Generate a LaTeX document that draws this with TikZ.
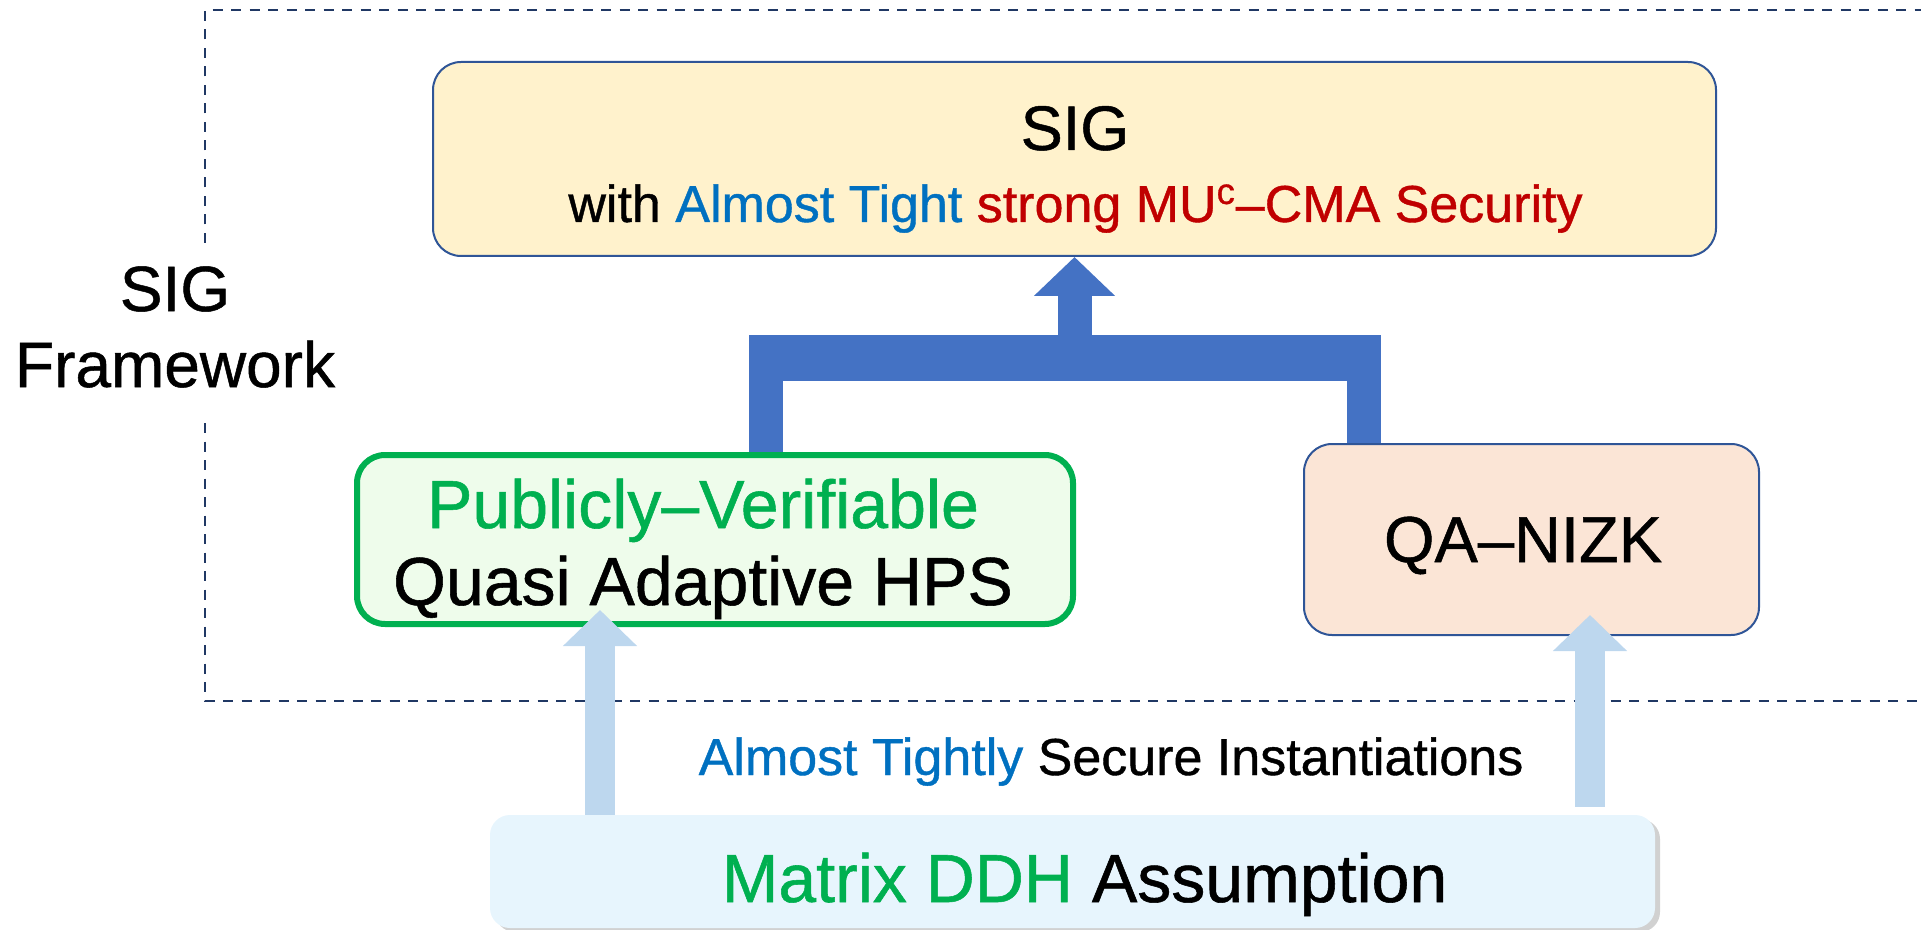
\documentclass[tikz,border=0pt]{standalone}
\usepackage{fontspec}
\setmainfont{Liberation Sans}[FakeBold=0.8]
\usepackage{xcolor}
\usetikzlibrary{arrows.meta,calc,shadows}

\definecolor{sigfill}{HTML}{FFF2CC}
\definecolor{hpsfill}{HTML}{EEFCEB}
\definecolor{nizkfill}{HTML}{FBE5D6}
\definecolor{ddhfill}{HTML}{E7F5FD}
\definecolor{cardedge}{HTML}{2F5597}
\definecolor{framenavy}{HTML}{203864}
\definecolor{fatblue}{HTML}{4472C4}
\definecolor{liftblue}{HTML}{BDD7EE}
\definecolor{hlgreen}{HTML}{00B050}
\definecolor{hlblue}{HTML}{0070C0}
\definecolor{hlred}{HTML}{C00000}

\newcommand{\setpt}[2]{\fontsize{#1}{#2}\selectfont}

\begin{document}
\begin{tikzpicture}[x=0.5pt,y=-0.5pt,
        card/.style={rounded corners=14pt,inner sep=0pt},
        fatline/.style={draw=fatblue,line width=17pt},
        liftarrow/.style={draw=liftblue,line width=15pt,-{Triangle[width=36pt,length=18pt]}},
        frameline/.style={draw=framenavy,line width=1.4pt,dash pattern=on 5pt off 4.25pt}]
    \useasboundingbox (0,0) rectangle (1921,930);

    % framework frame, open on the left for its label
    \draw[frameline] (205,243) -- (205,10) -- (1935,10);
    \draw[frameline] (205,423) -- (205,701) -- (1935,701);
    \node[align=center,font=\setpt{32pt}{38pt}] (fwlabel) at (175,327) {SIG\\Framework};

    % boxes
    \node[card,draw=cardedge,line width=1pt,fill=sigfill,minimum width=641.5pt,minimum height=97pt] (sig) at (1074.5,159) {};
    \node[anchor=base,font=\setpt{31.5pt}{38pt}] (sigtitle) at (1075,150) {SIG};
    \node[anchor=base,font=\setpt{26pt}{31pt}] (sigsub) at (1075.5,222)
        {with \textcolor{hlblue}{Almost Tight} \textcolor{hlred}{strong MU\textsuperscript{c}–CMA Security}};

    \node[card,draw=hlgreen,line width=3pt,fill=hpsfill,minimum width=358pt,minimum height=84.5pt] (hps) at (715,539.5) {};
    \node[anchor=base,font=\setpt{34pt}{40pt},text=hlgreen] (hpstop) at (703,528) {Publicly–Verifiable};
    \node[anchor=base,font=\setpt{34pt}{40pt}] (hpsbot) at (703,605) {Quasi Adaptive HPS};

    \node[card,draw=cardedge,line width=1pt,fill=nizkfill,minimum width=227.5pt,minimum height=95.5pt] (nizk) at (1531.5,539.5) {};
    \node[anchor=base,font=\setpt{32.5pt}{39pt}] (nizktext) at (1523,562) {QA–NIZK};

    \node[card,rounded corners=10pt,fill=ddhfill,minimum width=582.5pt,minimum height=56.5pt,
        drop shadow={shadow xshift=2.5pt,shadow yshift=-2pt,fill=black!40,opacity=.45}] (ddh) at (1072.5,871.5) {};
    \node[anchor=base,font=\setpt{34pt}{40pt}] (ddhtext) at (1084.5,902)
        {\textcolor{hlgreen}{Matrix DDH} Assumption};

    \node[anchor=base,font=\setpt{26pt}{31pt}] (instlabel) at (1111,775)
        {\textcolor{hlblue}{Almost Tightly} Secure Instantiations};

    % fat connector into SIG
    \coordinate (barl) at (766,358);
    \coordinate (barr) at (1364,358);
    \draw[fatline] (hps.north -| barl) -- (barl);
    \draw[fatline] (nizk.north -| barr) -- (barr);
    \draw[fatline,line width=23pt] ([xshift=-8.5pt]barl) -- ([xshift=8.5pt]barr);
    \draw[fatline,-{Triangle[width=39.5pt,length=19.5pt]}] (sig.south |- barl) -- (sig.south);

    % instantiations from the assumption
    \coordinate (liftl) at (600,610);
    \coordinate (liftr) at (1590,615);
    \draw[liftarrow] (ddh.north -| liftl) -- (liftl);
    \draw[liftarrow] ($(ddh.north -| liftr)+(0,-8)$) -- (liftr);
\end{tikzpicture}
\end{document}
